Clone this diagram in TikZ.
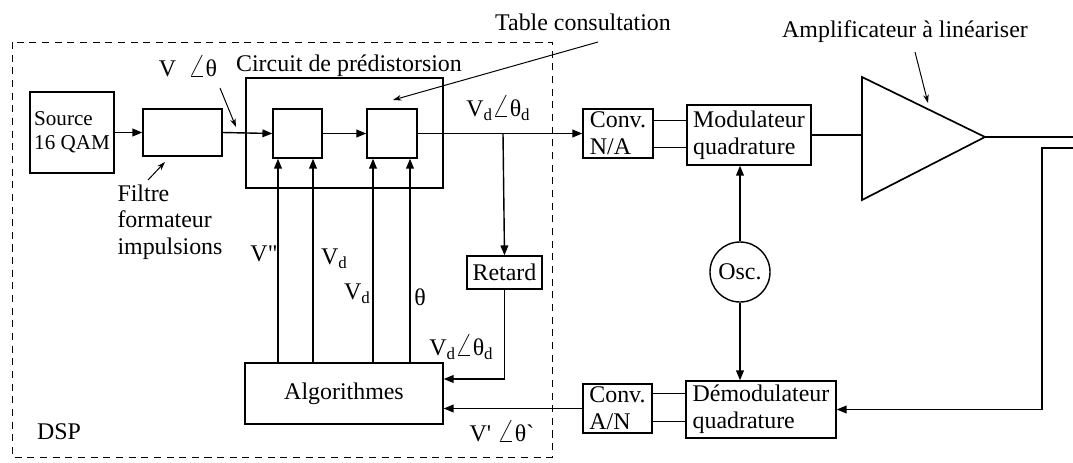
\documentclass[tikz,border=0pt]{standalone}
\usepackage{fontspec}
\setmainfont{Liberation Serif}
\newfontfamily\rawfont{Liberation Serif}
\usetikzlibrary{arrows.meta, positioning, calc}
\newcommand{\idx}[1]{\raisebox{-0.4ex}{\fontsize{12}{12}\selectfont #1}}
\newcommand{\ang}{\scalebox{1.35}{$\angle$}}

\begin{document}
\begin{tikzpicture}[
    x=0.025cm, y=-0.025cm,
    % Node styles
    box/.style={
        rectangle,
        draw,
        line width=1pt,
        inner sep=2pt,
        align=left,
        font=\fontsize{17}{19}\selectfont
    },
    sig/.style={
        -{Triangle[length=7pt, width=5.5pt]},
        line width=1pt
    },
    wire/.style={
        line width=1pt
    },
    pointer/.style={
        -{Stealth[length=6pt, width=4pt]},
        line width=0.7pt
    },
    lbl/.style={
        font=\fontsize{17}{19}\selectfont,
        inner sep=1pt,
        align=left
    }
]
\useasboundingbox (0,0) rectangle (1073,462);

% ============================================
% DSP ZONE
% ============================================
\draw[dash pattern=on 5pt off 4pt, line width=0.7pt] (12,42) rectangle (552,457);
\node[lbl] (dsp) at (59,432) {DSP};

% ============================================
% BLOCKS
% ============================================
\node[box, minimum width=2.1cm, minimum height=2.025cm,
      font=\fontsize{15}{17}\selectfont] (src) at (72,132.5) {Source\\16 QAM};
\node[box, minimum width=1.975cm, minimum height=1.175cm] (filt) at (182.5,132.5) {};

\node[box, minimum width=4.925cm, minimum height=2.75cm] (circ) at (344.5,133) {};
\node[lbl] (circlbl) at (349,66) {Circuit de prédistorsion};
\node[box, minimum width=1.225cm, minimum height=1.225cm] (tab1) at (297.5,133.5) {};
\node[box, minimum width=1.25cm, minimum height=1.225cm] (tab2) at (392,133.5) {};

\node[box, minimum width=1.75cm, minimum height=1.225cm] (cna) at (618,133.5) {Conv.\\N/A};
\node[box, minimum width=3.1cm, minimum height=1.5cm] (mod) at (749,135) {Modulateur\\quadrature};

\node[box, circle, minimum size=1.5cm, align=center] (osc) at (740,272) {Osc.};

\node[box, minimum width=3.75cm, minimum height=1.425cm] (dem) at (761,409.5) {Démodulateur\\quadrature};
\node[box, minimum width=1.725cm, minimum height=1.225cm] (can) at (617.5,408.5) {Conv.\\A/N};

\node[box, minimum width=4.95cm, minimum height=1.525cm, align=center] (algo) at (344,393.5) {Algorithmes};
\node[box, minimum width=1.875cm, minimum height=0.825cm, align=center] (ret) at (504.5,272.5) {Retard};

% amplifier
\coordinate (ampin) at (862,135);
\coordinate (ampout) at (985,137);
\draw[line width=1.2pt] (862,77) -- (ampout) -- (862,200) -- cycle;
\coordinate (out) at (1073,137);
\coordinate (fbin) at (1073,148);
\coordinate (br) at (503,133.5);
\coordinate (cnaup) at ([yshift=0.325cm]cna.east);
\coordinate (cnadn) at ([yshift=-0.35cm]cna.east);
\coordinate (canup) at ([yshift=0.375cm]can.east);
\coordinate (candn) at ([yshift=-0.325cm]can.east);

% ============================================
% FORWARD PATH
% ============================================
\draw[sig] (src.east) -- (filt.west);
\draw[sig] (filt.east) -- (tab1.west);
\draw[sig] (tab1.east) -- (tab2.west);
\draw[sig] (tab2.east) -- (cna.west);
\draw[wire] (cnaup) -- (cnaup -| mod.west);
\draw[wire] (cnadn) -- (cnadn -| mod.west);
\draw[wire] (mod.east) -- (ampin);
\draw[wire] (ampout) -- (out);

% ============================================
% FEEDBACK PATH
% ============================================
\draw[sig] (fbin) -- (1042,148) |- (dem.east);
\draw[sig] (osc.north) -- (osc.north |- mod.south);
\draw[sig] (osc.south) -- (osc.south |- dem.north);
\draw[wire] (canup) -- (canup -| dem.west);
\draw[wire] (candn) -- (candn -| dem.west);
\draw[sig] (can.west) -- (can.west -| algo.east);
\draw[sig] (br) -- (ret.north);
\draw[sig] (ret.south) |- ($(algo.east)+(0,-14.5)$);
\foreach \b/\x in {tab1/278, tab1/313, tab2/373, tab2/410}
    \draw[sig] (algo.north -| \x,0) -- (\b.south -| \x,0);

% ============================================
% SIGNAL LABELS
% ============================================
\node[lbl] (vth) at (188,66) {V\enspace\ang θ};
\node[lbl] (vdtop) at (498,108) {V\idx{d}\ang θ\idx{d}};
\node[lbl] (vdbot) at (461,347) {V\idx{d}\ang θ\idx{d}};
\node[lbl] (vret) at (502,431) {{\rawfont V'} \ang θ{\rawfont `}};
\node[lbl] (vpp) at (264,254) {{\rawfont V"}};
\node[lbl] (vd1) at (334,259) {V\idx{d}};
\node[lbl] (vd2) at (357,294) {V\idx{d}};
\node[lbl] (th) at (420,297) {θ};

% ============================================
% ANNOTATIONS
% ============================================
\node[lbl] (filtlbl) at (170,222) {Filtre\\formateur\\impulsions};
\node[lbl] (tablbl) at (583,22) {Table consultation};
\node[lbl] (amplbl) at (905,32) {Amplificateur à linéariser};
\draw[pointer] (220,88) -- (236,127);
\draw[pointer] (148,180) -- (165,162);
\draw[pointer] (598,42) -- (393,100);
\draw[pointer] (915,52) -- (928,103);

\end{tikzpicture}
\end{document}
